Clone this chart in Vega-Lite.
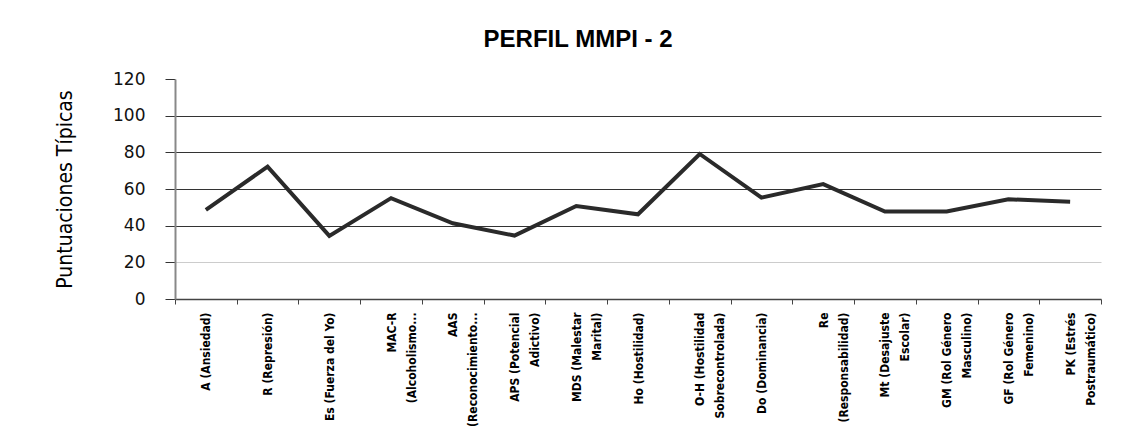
{
  "$schema": "https://vega.github.io/schema/vega-lite/v6.json",
  "width": 926,
  "height": 220,
  "padding": {"left": 54, "top": 28, "right": 27, "bottom": 5},
  "background": "white",
  "title": {
    "text": "PERFIL MMPI - 2",
    "font": "Liberation Sans",
    "fontSize": 24,
    "fontWeight": "bold",
    "color": "#000000",
    "anchor": "middle",
    "frame": "bounds",
    "offset": 18
  },
  "data": {
    "values": [
      {"escala": "A (Ansiedad)", "valor": 48.6},
      {"escala": "R (Represión)", "valor": 72.2},
      {"escala": "Es (Fuerza del Yo)", "valor": 34.4},
      {"escala": "MAC-R|(Alcoholismo...", "valor": 55},
      {"escala": "AAS|(Reconocimiento...", "valor": 41.3},
      {"escala": "APS (Potencial|Adictivo)", "valor": 34.6},
      {"escala": "MDS (Malestar|Marital)", "valor": 50.7},
      {"escala": "Ho (Hostilidad)", "valor": 46.2},
      {"escala": "O-H (Hostilidad|Sobrecontrolada)", "valor": 79.1},
      {"escala": "Do (Dominancia)", "valor": 55.3},
      {"escala": "Re|(Responsabilidad)", "valor": 62.7},
      {"escala": "Mt (Desajuste|Escolar)", "valor": 47.7},
      {"escala": "GM (Rol Género|Masculino)", "valor": 47.7},
      {"escala": "GF (Rol Género|Femenino)", "valor": 54.4},
      {"escala": "PK (Estrés|Postraumático)", "valor": 53.1}
    ]
  },
  "mark": {"type": "line", "color": "#2a2a2a", "strokeWidth": 4, "strokeJoin": "miter"},
  "encoding": {
    "x": {
      "field": "escala",
      "type": "nominal",
      "sort": null,
      "scale": {"paddingInner": 0, "paddingOuter": 0},
      "axis": {
        "title": null,
        "labelAngle": -90,
        "labelAlign": "right",
        "labelBaseline": "middle",
        "labelExpr": "split(datum.label, '|')",
        "labelFont": "'DejaVu Sans Condensed', 'Liberation Sans'",
        "labelFontSize": 12,
        "labelFontWeight": "bold",
        "labelColor": "#000000",
        "labelLineHeight": 20,
        "labelPadding": 8,
        "labelLimit": 200,
        "tickBand": "extent",
        "tickSize": 5,
        "tickColor": "#444444",
        "domainColor": "#444444",
        "domainWidth": 1.5,
        "grid": false
      }
    },
    "y": {
      "field": "valor",
      "type": "quantitative",
      "scale": {"domain": [0, 120], "nice": false},
      "axis": {
        "title": "Puntuaciones Típicas",
        "titleFont": "'DejaVu Sans Condensed', 'Liberation Sans'",
        "titleFontSize": 21,
        "titleFontWeight": "normal",
        "titleColor": "#000000",
        "titlePadding": 37,
        "values": [0, 20, 40, 60, 80, 100, 120],
        "labelFont": "DejaVu Sans",
        "labelFontSize": 17,
        "labelColor": "#111111",
        "labelPadding": 20,
        "tickSize": 10,
        "tickColor": "#333333",
        "domainColor": "#888888",
        "domainWidth": 2,
        "grid": true,
        "gridColor": {
          "condition": [
            {"test": "datum.value === 20", "value": "#cccccc"},
            {"test": "datum.value === 120 || datum.value === 0", "value": "transparent"}
          ],
          "value": "#333333"
        },
        "gridWidth": 1
      }
    }
  },
  "config": {
    "view": {"stroke": null}
  }
}
